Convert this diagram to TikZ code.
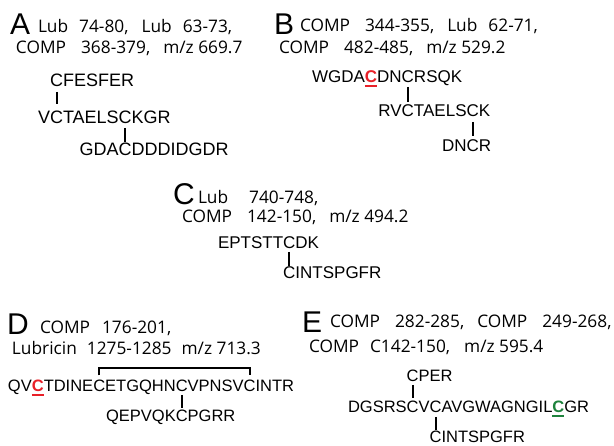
\documentclass[tikz,border=0pt]{standalone}
\usepackage{fontspec}
\setmainfont{Liberation Sans}
\newfontfamily\hdrfam{Open Sans}
\newcommand\seqA{\fontsize{18}{20}\selectfont}
\newcommand\seqB{\fontsize{17}{19}\selectfont}
\newcommand\seqD{\fontsize{16.5}{18}\selectfont}
\newcommand\hdrf{\hdrfam\fontsize{17.3}{19}\selectfont}
\newcommand\bigf{\fontsize{30}{32}\selectfont}
\definecolor{cred}{RGB}{232,32,40}
\definecolor{cgreen}{RGB}{30,130,60}
\newcommand\gc{\hspace{15pt}}% after COMP
\newcommand\gm{\hspace{13pt}}% after a comma
\newcommand\gl{\hspace{11pt}}% after Lub
\begin{document}
\begin{tikzpicture}[x=1pt,y=-1pt,
  every node/.style={inner sep=0pt,outer sep=0pt},
  big/.style={anchor=base west,font=\bigf},
  hdr/.style={anchor=base west,font=\hdrf},
  sa/.style={anchor=base west,font=\seqA},
  sb/.style={anchor=base west,font=\seqB},
  sd/.style={anchor=base west,font=\seqD},
  bar/.style={line width=2pt},
  uline/.style={line width=1.8pt}]
\useasboundingbox[fill=white] (0,0) rectangle (614,446);

% ---------- A ----------
\node[big] (lA) at (10,35) {A};
\node[hdr] (hA1) at (38,33) {Lub\gl 74-80,\gm Lub\gl 63-73,};
\node[hdr] (hA2) at (16,54) {COMP\gc 368-379,\gm m/z 669.7};
\node[sa] (a2a) at (38,124) {V};
\node[sa] (a2c) at (a2a.base east) {C};
\node[sa] (a2b) at (a2c.base east) {TAELS};
\node[sa] (a2d) at (a2b.base east) {C};
\node[sa] (a2e) at (a2d.base east) {KGR};
\node[sa,anchor=base] (a1c) at (a2c.base |- 0,87) {C};
\node[sa] (a1b) at (a1c.base east) {FESFER};
\node[sa,anchor=base] (a3c) at (a2d.base |- 0,156) {C};
\node[sa,anchor=base east] (a3a) at (a3c.base west) {GDA};
\node[sa] (a3b) at (a3c.base east) {DDDIDGDR};
\draw[bar] ([yshift=-5pt]a1c.base) -- ([yshift=7pt]a2c.north);
\draw[bar] ([yshift=-4pt]a2d.base) -- ([yshift=1pt]a3c.north);

% ---------- B ----------
\node[big] (lB) at (274,35) {B};
\node[hdr] (hB1) at (300,32) {COMP\gc 344-355,\gm Lub\gl 62-71,};
\node[hdr] (hB2) at (279,54) {COMP\gc 482-485,\gm m/z 529.2};
\node[sb] (b1a) at (312,83) {WGDA};
\node[sb,text=cred] (b1r) at (b1a.base east) {\bfseries C};
\draw[uline,cred] ([yshift=-3pt]b1r.base west) -- ([yshift=-3pt]b1r.base east);
\node[sb] (b1b) at (b1r.base east) {DN};
\node[sb] (b1c) at (b1b.base east) {C};
\node[sb] (b1d) at (b1c.base east) {RSQK};
\node[sb,anchor=base] (b2c) at (b1c.base |- 0,117) {C};
\node[sb,anchor=base east] (b2a) at (b2c.base west) {RV};
\node[sb] (b2b) at (b2c.base east) {TAELS};
\node[sb] (b2d) at (b2b.base east) {C};
\node[sb] (b2e) at (b2d.base east) {K};
\node[sb,anchor=base] (b3c) at (b2d.base |- 0,152) {C};
\node[sb,anchor=base east] (b3a) at (b3c.base west) {DN};
\node[sb] (b3b) at (b3c.base east) {R};
\draw[bar] ([yshift=-4pt]b1c.base) -- ([yshift=3pt]b2c.north);
\draw[bar] ([yshift=-5pt]b2d.base) -- ([yshift=4pt]b3c.north);

% ---------- C ----------
\node[big] (lC) at (173,205) {C};
\node[hdr] (hC1) at (198,204) {Lub\hspace{21pt}740-748,};
\node[hdr] (hC2) at (182,223) {COMP\gc 142-150,\gm m/z 494.2};
\node[sb] (c1a) at (218,249) {EPTSTT};
\node[sb] (c1c) at (c1a.base east) {C};
\node[sb] (c1b) at (c1c.base east) {DK};
\node[sb,anchor=base] (c2c) at (c1c.base |- 0,279) {C};
\node[sb] (c2b) at (c2c.base east) {INTSPGFR};
\draw[bar] ([yshift=-3pt]c1c.base) -- ([yshift=1pt]c2c.north);

% ---------- D ----------
\node[big] (lD) at (7,335) {D};
\node[hdr] (hD1) at (40,334) {COMP\hspace{12pt}176-201,};
\node[hdr] (hD2) at (12,355) {Lubricin\hspace{10pt}1275-1285\hspace{10pt}m/z 713.3};
\node[sd] (d1a) at (8,392) {QV};
\node[sd,text=cred] (d1r) at (d1a.base east) {\bfseries C};
\draw[uline,cred] ([yshift=-3pt]d1r.base west) -- ([yshift=-3pt]d1r.base east);
\node[sd] (d1b) at (d1r.base east) {TDINE};
\node[sd] (d1c) at (d1b.base east) {C};
\node[sd] (d1d) at (d1c.base east) {ETGQHN};
\node[sd] (d1e) at (d1d.base east) {C};
\node[sd] (d1f) at (d1e.base east) {VPNSV};
\node[sd] (d1g) at (d1f.base east) {C};
\node[sd] (d1h) at (d1g.base east) {INTR};
\node[sd,anchor=base] (d2c) at (d1e.base |- 0,422) {C};
\node[sd,anchor=base east] (d2a) at (d2c.base west) {QEPVQK};
\node[sd] (d2b) at (d2c.base east) {PGRR};
\draw[bar] ([yshift=5pt]d1c.north) -- ([yshift=12pt]d1c.north) -| ([yshift=5pt]d1g.north);
\draw[bar] ([yshift=-3pt]d1e.base) -- ([yshift=2pt]d2c.north);

% ---------- E ----------
\node[big] (lE) at (302,333) {E};
\node[hdr] (hE1) at (330,328) {COMP\gc 282-285,\gm COMP\gc 249-268,};
\node[hdr] (hE2) at (309,353) {COMP\hspace{11pt}C142-150,\hspace{14pt}m/z 595.4};
\node[sd] (e2a) at (348,413) {DGSRS};
\node[sd] (e2c) at (e2a.base east) {C};
\node[sd] (e2b) at (e2c.base east) {V};
\node[sd] (e2d) at (e2b.base east) {C};
\node[sd] (e2e) at (e2d.base east) {AVGWAGNGIL};
\node[sd,text=cgreen] (e2g) at (e2e.base east) {\bfseries C};
\draw[uline,cgreen] ([yshift=-3pt]e2g.base west) -- ([yshift=-3pt]e2g.base east);
\node[sd] (e2f) at (e2g.base east) {GR};
\node[sd,anchor=base] (e1c) at (e2c.base |- 0,382) {C};
\node[sd] (e1b) at (e1c.base east) {PER};
\node[sd,anchor=base] (e3c) at (e2d.base |- 0,443) {C};
\node[sd] (e3b) at (e3c.base east) {INTSPGFR};
\draw[bar] ([yshift=-3pt]e1c.base) -- ([yshift=3pt]e2c.north);
\draw[bar] ([yshift=-4pt]e2d.base) -- ([yshift=1pt]e3c.north);
\end{tikzpicture}
\end{document}
